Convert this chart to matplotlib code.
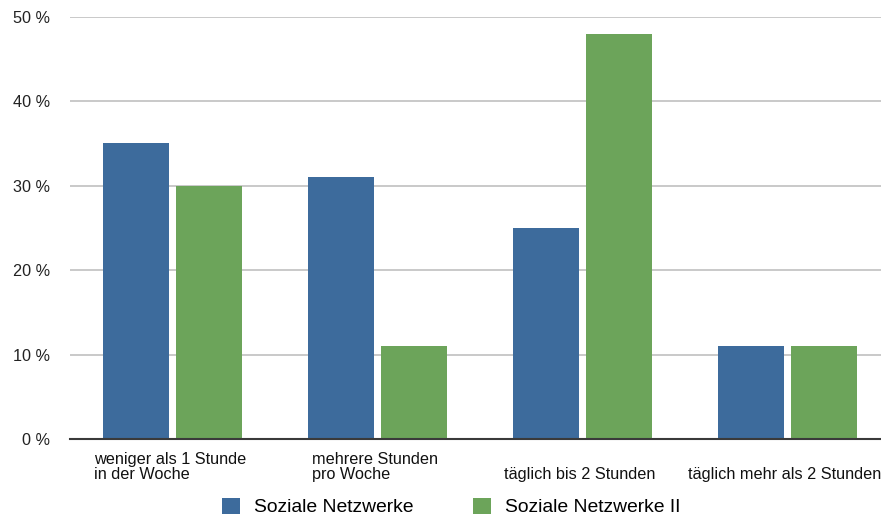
import matplotlib
matplotlib.use("Agg")
import matplotlib.pyplot as plt
import numpy as np

plt.rcParams["font.family"] = ["Liberation Sans", "DejaVu Sans"]

categories = [
    "weniger als 1 Stunde\nin der Woche",
    "mehrere Stunden\npro Woche",
    "täglich bis 2 Stunden",
    "täglich mehr als 2 Stunden",
]
series_names = ["Soziale Netzwerke", "Soziale Netzwerke II"]
netzwerke = [35, 31, 25, 11]
netzwerke_ii = [30, 11, 48, 11]
y_ticks = [0, 10, 20, 30, 40, 50]
y_tick_labels = ["0 %", "10 %", "20 %", "30 %", "40 %", "50 %"]

blue = "#3d6b9c"
green = "#6ca45a"

W, H = 881, 518
fig = plt.figure(figsize=(W / 100, H / 100), dpi=100)
# plot area: left edge at 70 px, bottom axis at 439.3 px, 50 % line at 16.7 px
left, right = 70 / W, 890 / W
bottom, top = (H - 439.3) / H, (H - 16.7) / H
ax = fig.add_axes([left, bottom, right - left, top - bottom])

x = np.arange(len(categories))
width = 0.325
offset = 0.178
b1 = ax.bar(x - offset, netzwerke, width, color=blue, zorder=3)
b2 = ax.bar(x + offset, netzwerke_ii, width, color=green, zorder=3)

ax.set_xlim(-0.5, len(categories) - 0.5)
ax.set_ylim(0, 50)
ax.set_yticks(y_ticks)
ax.set_yticklabels(y_tick_labels, fontsize=11.7, color="#222222")
ax.tick_params(axis="y", length=0, pad=14.4)
ax.set_xticks([])

for s in ["left", "right", "top"]:
    ax.spines[s].set_visible(False)
ax.spines["bottom"].set_color("#3a3a3a")
ax.spines["bottom"].set_linewidth(1.5)
ax.spines["bottom"].set_zorder(4)

for t in y_ticks[1:]:
    ax.axhline(t, color="#c0c0c0", linewidth=1.2, zorder=1)

trans = ax.get_xaxis_transform()
for xi, label in zip(x, categories):
    ax.text(xi - 0.012, -0.1022, label, transform=trans, ha="center", va="bottom",
            multialignment="left", fontsize=11.7, color="#111111",
            linespacing=1.02, clip_on=False)

fig.legend([b1, b2], series_names, loc="center left",
           bbox_to_anchor=(222 / W, 1 - 507 / H), ncol=2, frameon=False,
           fontsize=13.9, handlelength=0.93, handleheight=0.93,
           handletextpad=0.73, columnspacing=3.1, borderpad=0,
           borderaxespad=0)

fig.savefig("out.png", dpi=100)
